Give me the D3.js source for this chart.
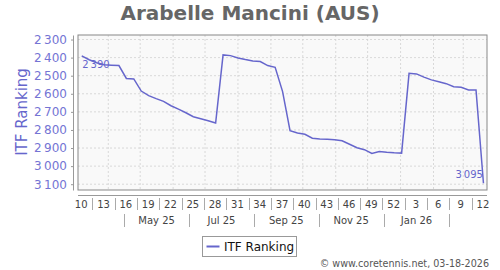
<!DOCTYPE html>
<html>
<head>
<meta charset="utf-8">
<script src="https://cdn.jsdelivr.net/npm/d3@7"></script>
<style>
  body { margin: 0; background: #fff; }
  svg { display: block; font-family: "DejaVu Sans", sans-serif; }
</style>
</head>
<body>
<svg id="chart" width="500" height="270"></svg>
<script>
// weekly ITF ranking, week 10 (2025) .. week 12 (2026)
const firstWeek = new Date(2025, 2, 7);
const lastWeek = new Date(2026, 2, 20);
const ranks = [2390, 2412, 2428, 2440, 2442, 2444, 2515, 2518, 2585, 2610,
  2627, 2642, 2666, 2685, 2705, 2727, 2738, 2749, 2762, 2385,
  2389, 2402, 2411, 2419, 2422, 2444, 2454, 2588, 2804, 2817,
  2824, 2846, 2850, 2851, 2854, 2860, 2879, 2898, 2909, 2930,
  2919, 2923, 2926, 2928, 2487, 2490, 2508, 2523, 2533, 2544,
  2561, 2564, 2579, 2579, 3095];
const yTicks = [2300, 2400, 2500, 2600, 2700, 2800, 2900, 3000, 3100];
const weekLabels = [10, 13, 16, 19, 22, 25, 28, 31, 34, 37, 40, 43, 46, 49, 52, 3, 6, 9, 12];
const monthLabels = ["May 25", "Jul 25", "Sep 25", "Nov 25", "Jan 26"];

const dates = d3.timeFriday.range(firstWeek, d3.timeDay.offset(lastWeek, 1));
const data = dates.map((d, i) => ({date: d, rank: ranks[i]}));

const svg = d3.select("#chart");
const pl = 78, pr = 487, pt = 35, pb = 190;
const lineColor = "#6666cc";
const fmt = v => { const s = String(v); return s.slice(0, s.length - 3) + "\u2009" + s.slice(-3); };

const x = d3.scaleTime()
  .domain([new Date(2025, 2, 3, 12), new Date(2026, 2, 23, 8)])
  .range([pl, pr]);
const y = d3.scaleLinear().domain([2275, 3132]).range([pt, pb]);

// title
svg.append("text")
  .attr("x", 250).attr("y", 20)
  .attr("text-anchor", "middle")
  .attr("font-size", 20).attr("font-weight", "bold")
  .attr("fill", "#666")
  .text("Arabelle Mancini (AUS)");

// plot background
svg.append("rect")
  .attr("x", pl).attr("y", pt)
  .attr("width", pr - pl).attr("height", pb - pt)
  .attr("fill", "#f9f9f9");

// grid
const months = d3.timeMonth.range(new Date(2025, 3, 1), new Date(2026, 2, 2));
svg.append("g").selectAll("line")
  .data(months)
  .join("line")
  .attr("x1", d => x(d)).attr("x2", d => x(d))
  .attr("y1", pt).attr("y2", pb)
  .attr("stroke", "#d0d0d0").attr("stroke-width", 0.8)
  .attr("stroke-dasharray", "2,2");
svg.append("g").selectAll("line")
  .data(yTicks)
  .join("line")
  .attr("x1", pl).attr("x2", pr)
  .attr("y1", d => y(d)).attr("y2", d => y(d))
  .attr("stroke", "#d0d0d0").attr("stroke-width", 0.8)
  .attr("stroke-dasharray", "2,2");

svg.append("rect")
  .attr("x", pl).attr("y", pt)
  .attr("width", pr - pl).attr("height", pb - pt)
  .attr("fill", "none").attr("stroke", "#888").attr("stroke-width", 1);

// y axis
const yAxis = svg.append("g")
  .attr("transform", "translate(73,0)")
  .call(d3.axisLeft(y).tickValues(yTicks).tickSize(2).tickSizeOuter(0).tickFormat(fmt));
yAxis.select(".domain").attr("stroke", "#999");
yAxis.selectAll(".tick line").attr("stroke", "#999");
yAxis.selectAll(".tick text")
  .attr("x", -6)
  .attr("font-family", "DejaVu Sans").attr("font-size", 12)
  .attr("fill", "#7474d4");

svg.append("text")
  .attr("transform", "translate(27,112) rotate(-90)")
  .attr("text-anchor", "middle")
  .attr("font-size", 15)
  .attr("fill", lineColor)
  .text("ITF Ranking");

// x axis (weeks / months bands)
svg.append("line")
  .attr("x1", pl).attr("x2", pr)
  .attr("y1", 195.5).attr("y2", 195.5)
  .attr("stroke", "#999");

const weekCenters = weekLabels.map((w, i) => d3.timeHour.offset(d3.timeWeek.offset(new Date(2025, 2, 6), 3 * i), 12));
const weekSeps = d3.range(weekLabels.length - 1).map(i => d3.timeWeek.offset(new Date(2025, 2, 17), 3 * i));
svg.append("g").selectAll("text")
  .data(weekLabels)
  .join("text")
  .attr("x", (d, i) => x(weekCenters[i]))
  .attr("y", 208)
  .attr("text-anchor", "middle")
  .attr("font-size", 10)
  .attr("fill", "#444")
  .text(d => d);
svg.append("g").selectAll("line")
  .data(weekSeps)
  .join("line")
  .attr("x1", d => Math.round(x(d)) + 0.5).attr("x2", d => Math.round(x(d)) + 0.5)
  .attr("y1", 198).attr("y2", 210)
  .attr("stroke", "#aaa");

const monthSeps = d3.range(monthLabels.length + 1).map(i => d3.timeMonth.offset(new Date(2025, 3, 16), 2 * i));
svg.append("g").selectAll("text")
  .data(monthLabels)
  .join("text")
  .attr("x", (d, i) => (x(monthSeps[i]) + x(monthSeps[i + 1])) / 2)
  .attr("y", 224)
  .attr("text-anchor", "middle")
  .attr("font-size", 10)
  .attr("fill", "#444")
  .text(d => d);
svg.append("g").selectAll("line")
  .data(monthSeps)
  .join("line")
  .attr("x1", d => Math.round(x(d)) + 0.5).attr("x2", d => Math.round(x(d)) + 0.5)
  .attr("y1", 214).attr("y2", 227)
  .attr("stroke", "#aaa");

// ranking line
svg.append("path")
  .datum(data)
  .attr("fill", "none")
  .attr("stroke", lineColor)
  .attr("stroke-width", 1.5)
  .attr("d", d3.line().x(d => x(d.date)).y(d => y(d.rank)));

// first / last labels
const first = data[0], last = data[data.length - 1];
svg.append("text")
  .attr("x", x(first.date) + 0.5).attr("y", y(first.rank) + 12)
  .attr("font-size", 10).attr("fill", lineColor)
  .text(fmt(first.rank));
svg.append("text")
  .attr("x", x(last.date) - 0.5).attr("y", y(last.rank) - 5)
  .attr("text-anchor", "end")
  .attr("font-size", 10).attr("fill", lineColor)
  .text(fmt(last.rank));

// legend
const lg = svg.append("g").attr("transform", "translate(202.5,236.5)");
lg.append("rect").attr("width", 94).attr("height", 20)
  .attr("fill", "#fff").attr("stroke", "#999");
lg.append("line").attr("x1", 4).attr("x2", 17).attr("y1", 10).attr("y2", 10)
  .attr("stroke", lineColor).attr("stroke-width", 2);
lg.append("text").attr("x", 21.5).attr("y", 14.5)
  .attr("font-size", 12).attr("fill", "#111")
  .text("ITF Ranking");

// footer
svg.append("text")
  .attr("x", 489).attr("y", 267)
  .attr("text-anchor", "end")
  .attr("font-size", 9.6).attr("fill", "#555")
  .text("\u00a9 www.coretennis.net, 03-18-2026");
</script>
</body>
</html>
